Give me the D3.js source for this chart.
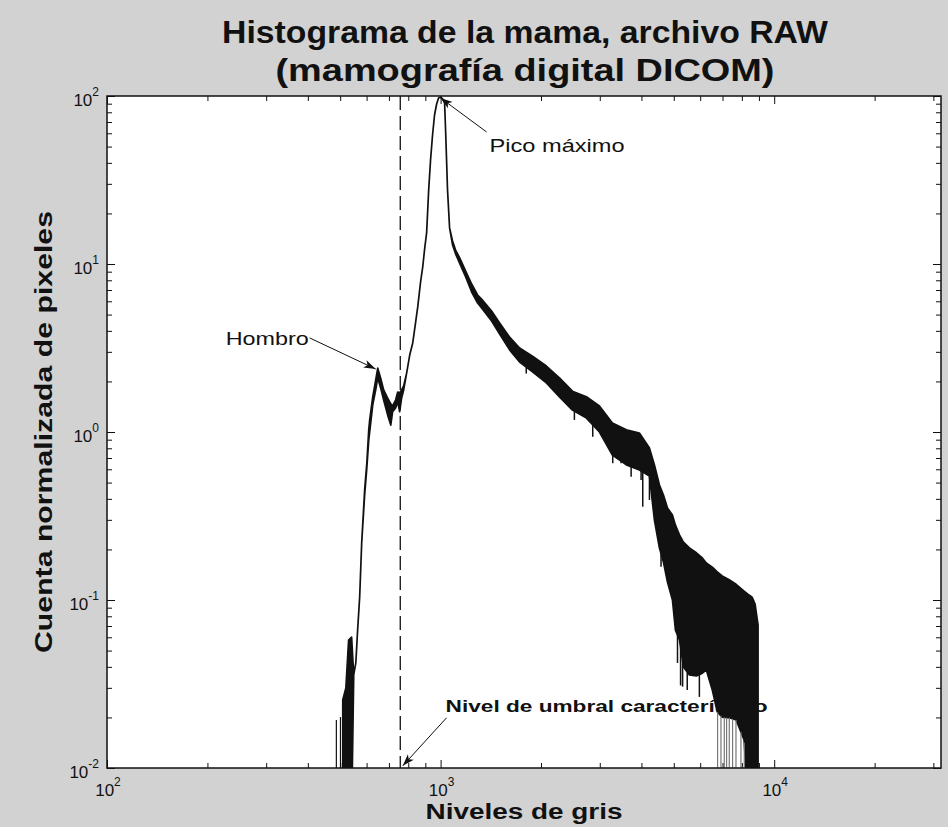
<!DOCTYPE html>
<html><head><meta charset="utf-8">
<script src="https://cdn.jsdelivr.net/npm/d3@7"></script>
<style>body{margin:0;background:#d2d2d2;} svg{display:block;}</style>
</head><body>
<svg id="c" width="948" height="827"></svg>
<script>
// ---------- data ----------
const grayLevels = [509,520,530,541,549,557,564,572,580,592,601,609,613,626,639,648,661,675,694,709,718,733,744,754,764,775,791,808,825,842,854,871,884,896,908,921,933,946,959,973,986,1000,1014,1028,1035,1042,1049,1064,1086,1109,1140,1189,1239,1291,1327,1422,1503,1610,1725,1886,2075,2271,2484,2736,2993,3273,3605,3944,4227,4375,4529,4656,4787,4954,5058,5200,5345,5570,5844,6090,6259,6523,6749,6984,7328,7688,8124,8409,8584,8763,8884,8946];
const countUpper = [0.0254,0.0299,0.0578,0.0602,0.0358,0.0422,0.0662,0.104,0.218,0.452,0.653,1.03,1.18,1.62,2.04,2.40,2.10,1.78,1.59,1.47,1.43,1.55,1.73,1.71,1.78,1.88,2.24,2.87,3.39,4.52,5.55,7.82,9.60,12.4,15.3,27.6,41.6,58.6,77.1,89.6,97.3,98.6,96.0,90.9,62.8,41.6,27.6,16.4,13.7,12.1,10.9,9.08,7.60,6.54,6.19,5.25,4.46,3.67,3.16,2.83,2.47,2.10,1.75,1.62,1.43,1.13,1.03,0.986,0.803,0.637,0.484,0.422,0.353,0.321,0.279,0.244,0.221,0.204,0.191,0.178,0.166,0.157,0.147,0.139,0.132,0.124,0.113,0.107,0.104,0.0947,0.0781,0.0710];
const countLower = [0.005,0.005,0.005,0.005,0.0358,0.0422,0.0662,0.104,0.218,0.422,0.611,0.896,1.00,1.45,1.78,2.10,1.83,1.55,1.26,1.10,1.32,1.39,1.51,1.32,1.59,1.78,2.24,2.87,3.39,4.52,5.55,7.82,9.60,12.4,15.3,27.6,41.6,58.6,77.1,89.6,97.3,98.6,96.0,90.9,62.8,41.6,27.6,16.4,13.0,11.5,10.1,8.37,6.81,5.86,5.47,4.58,3.83,3.08,2.61,2.28,1.96,1.62,1.35,1.21,1.00,0.730,0.637,0.594,0.547,0.299,0.204,0.168,0.128,0.100,0.0662,0.0578,0.0399,0.0358,0.0353,0.0367,0.0383,0.0291,0.0216,0.0201,0.0199,0.0193,0.0147,0.005,0.005,0.005,0.005,0.005];
const isolatedLevels = [487, 501];
const isolatedCounts = [0.0193, 0.0201];
const spikeLevels = [1806, 2518, 2858, 3281, 3475, 3725, 3990, 4036, 4227, 4579, 5130, 5240, 5314, 5487, 5966];
const spikeCounts = [2.23, 1.18, 0.937, 0.652, 0.652, 0.542, 0.518, 0.359, 0.394, 0.158, 0.0422, 0.0310, 0.0305, 0.0291, 0.0265];
const zeroBinLevels = [6765, 6925, 7086, 7199, 7334, 7503, 7681, 7949, 8134, 8321];
const thresholdLevel = 757;
const xMajor = [100, 1000, 10000];
const xExponents = ["2", "3", "4"];
const yMajor = [0.01, 0.1, 1, 10, 100];
const yExponents = ["-2", "-1", "0", "1", "2"];
const titleLines = ["Histograma de la mama, archivo RAW", "(mamografía digital DICOM)"];
const xTitle = "Niveles de gris";
const yTitle = "Cuenta normalizada de pixeles";
const notePeak = {text: "Pico máximo", tip: [1000, 97.3], tail: [1373, 61.1], at: [1402, 46.4], len: 135, bold: false, size: 19};
const noteShoulder = {text: "Hombro", tip: [639, 2.37], tail: [405, 3.63], at: [227, 3.30], len: 83, bold: false, size: 19};
const noteThreshold = {text: "Nivel de umbral característico", tip: [770, 0.0103], tail: [1042, 0.0199], at: [1035, 0.0216], len: 322, bold: true, size: 16};

// ---------- drawing ----------
const W = 948, H = 827;
const P = {l: 107, r: 941, t: 96, b: 768};
const FONT = "Arial, 'Liberation Sans', Helvetica, sans-serif";
const INK = "#111";
const svg = d3.select("#c");
svg.append("rect").attr("width", W).attr("height", H).attr("fill", "#d2d2d2");

const x = d3.scaleLog().domain([100, 31623]).range([P.l, P.r]);
const y = d3.scaleLog().domain([0.01, 100]).range([P.b, P.t]);

svg.append("rect").attr("x", P.l).attr("y", P.t).attr("width", P.r - P.l).attr("height", P.b - P.t).attr("fill", "#fff");

const defs = svg.append("defs");
defs.append("clipPath").attr("id", "clip").append("rect")
  .attr("x", P.l).attr("y", P.t).attr("width", P.r - P.l).attr("height", P.b - P.t);
defs.append("marker").attr("id", "arr").attr("viewBox", "0 -5 12 10")
  .attr("refX", 12).attr("refY", 0).attr("markerWidth", 12).attr("markerHeight", 10)
  .attr("markerUnits", "userSpaceOnUse").attr("orient", "auto")
  .append("path").attr("d", "M0,-4L12,0L0,4L3,0Z").attr("fill", INK);

function noteText(n) {
  svg.append("text").attr("x", x(n.at[0])).attr("y", y(n.at[1]))
    .attr("font-family", FONT).attr("font-size", n.size)
    .attr("font-weight", n.bold ? "bold" : "normal").attr("fill", INK)
    .attr("textLength", n.len).attr("lengthAdjust", "spacingAndGlyphs")
    .text(n.text);
}
function noteArrow(n) {
  svg.append("line").attr("x1", x(n.tail[0])).attr("y1", y(n.tail[1]))
    .attr("x2", x(n.tip[0])).attr("y2", y(n.tip[1]))
    .attr("stroke", INK).attr("stroke-width", 1).attr("marker-end", "url(#arr)");
}

// threshold label sits under the data
noteText(noteThreshold);

const gData = svg.append("g").attr("clip-path", "url(#clip)");
const data = grayLevels.map((g, i) => ({g, u: countUpper[i], lo: countLower[i]}));
const area = d3.area().x(d => x(d.g)).y0(d => y(d.lo)).y1(d => y(d.u));
gData.append("path").datum(data).attr("d", area)
  .attr("fill", INK).attr("stroke", INK).attr("stroke-width", 1.7).attr("stroke-linejoin", "round");

function lowerAt(level) {
  const i = d3.bisectRight(grayLevels, level) - 1;
  const j = Math.min(i + 1, grayLevels.length - 1);
  if (i < 0) return countLower[0];
  if (i === j) return countLower[i];
  const t = (Math.log(level) - Math.log(grayLevels[i])) / (Math.log(grayLevels[j]) - Math.log(grayLevels[i]));
  return Math.exp(Math.log(countLower[i]) + t * (Math.log(countLower[j]) - Math.log(countLower[i])));
}
spikeLevels.forEach((g, i) => {
  gData.append("line").attr("x1", x(g)).attr("x2", x(g))
    .attr("y1", y(lowerAt(g))).attr("y2", y(spikeCounts[i]))
    .attr("stroke", INK).attr("stroke-width", 1.5);
});
isolatedLevels.forEach((g, i) => {
  gData.append("line").attr("x1", x(g)).attr("x2", x(g))
    .attr("y1", y(0.01)).attr("y2", y(isolatedCounts[i]))
    .attr("stroke", INK).attr("stroke-width", 1.2);
});
zeroBinLevels.forEach(g => {
  gData.append("line").attr("x1", x(g)).attr("x2", x(g))
    .attr("y1", y(lowerAt(g))).attr("y2", y(0.01))
    .attr("stroke", "#777").attr("stroke-width", 1.2);
});

// threshold dashed line
svg.append("line").attr("x1", x(thresholdLevel)).attr("x2", x(thresholdLevel))
  .attr("y1", y(100)).attr("y2", y(0.01))
  .attr("stroke", INK).attr("stroke-width", 1.3).attr("stroke-dasharray", "14,6");

// axes ticks (inward, all four sides)
const xMinor = [], yMinor = [];
[100, 1000, 10000].forEach(d => { for (let k = 2; k <= 9; k++) if (d * k <= 31623) xMinor.push(d * k); });
[0.01, 0.1, 1, 10].forEach(d => { for (let k = 2; k <= 9; k++) yMinor.push(d * k); });

function tickAxis(gen, vals, size, tr) {
  const g = svg.append("g").attr("transform", tr)
    .call(gen.tickValues(vals).tickSizeInner(size).tickSizeOuter(0).tickFormat(() => ""));
  g.select(".domain").remove();
  g.selectAll("line").attr("stroke", INK).attr("stroke-width", 1);
}
tickAxis(d3.axisBottom(x), xMajor, -8, `translate(0,${P.b})`);
tickAxis(d3.axisBottom(x), xMinor, -5, `translate(0,${P.b})`);
tickAxis(d3.axisTop(x), xMajor, -8, `translate(0,${P.t})`);
tickAxis(d3.axisTop(x), xMinor, -5, `translate(0,${P.t})`);
tickAxis(d3.axisLeft(y), yMajor, -8, `translate(${P.l},0)`);
tickAxis(d3.axisLeft(y), yMinor, -5, `translate(${P.l},0)`);
tickAxis(d3.axisRight(y), yMajor, -8, `translate(${P.r},0)`);
tickAxis(d3.axisRight(y), yMinor, -5, `translate(${P.r},0)`);

svg.append("rect").attr("x", P.l).attr("y", P.t).attr("width", P.r - P.l).attr("height", P.b - P.t)
  .attr("fill", "none").attr("stroke", INK).attr("stroke-width", 1.5);

// tick labels
xMajor.forEach((v, i) => {
  const t = svg.append("text").attr("x", x(v) + 1).attr("y", P.b + 28)
    .attr("text-anchor", "middle").attr("font-family", FONT).attr("fill", INK);
  t.append("tspan").attr("font-size", 17).text("10");
  t.append("tspan").attr("font-size", 12).attr("dy", -10).text(xExponents[i]);
});
yMajor.forEach((v, i) => {
  const t = svg.append("text").attr("x", P.l - 8).attr("y", y(v) + 10)
    .attr("text-anchor", "end").attr("font-family", FONT).attr("fill", INK);
  t.append("tspan").attr("font-size", 17).text("10");
  t.append("tspan").attr("font-size", 12).attr("dy", -10).text(yExponents[i]);
});

// titles
const titleBase = [43, 81], titleLen = [606, 499];
titleLines.forEach((s, i) => {
  svg.append("text").attr("x", 525).attr("y", titleBase[i]).attr("text-anchor", "middle")
    .attr("font-family", FONT).attr("font-size", 31).attr("font-weight", "bold").attr("fill", INK)
    .attr("textLength", titleLen[i]).attr("lengthAdjust", "spacingAndGlyphs").text(s);
});
svg.append("text").attr("x", 524).attr("y", 819).attr("text-anchor", "middle")
  .attr("font-family", FONT).attr("font-size", 22).attr("font-weight", "bold").attr("fill", INK)
  .attr("textLength", 197).attr("lengthAdjust", "spacingAndGlyphs").text(xTitle);
svg.append("text").attr("transform", `translate(52,${(P.t + P.b) / 2}) rotate(-90)`)
  .attr("text-anchor", "middle")
  .attr("font-family", FONT).attr("font-size", 23).attr("font-weight", "bold").attr("fill", INK)
  .attr("textLength", 442).attr("lengthAdjust", "spacingAndGlyphs").text(yTitle);

// annotations
noteText(notePeak); noteArrow(notePeak);
noteText(noteShoulder); noteArrow(noteShoulder);
noteArrow(noteThreshold);
</script>
</body></html>
